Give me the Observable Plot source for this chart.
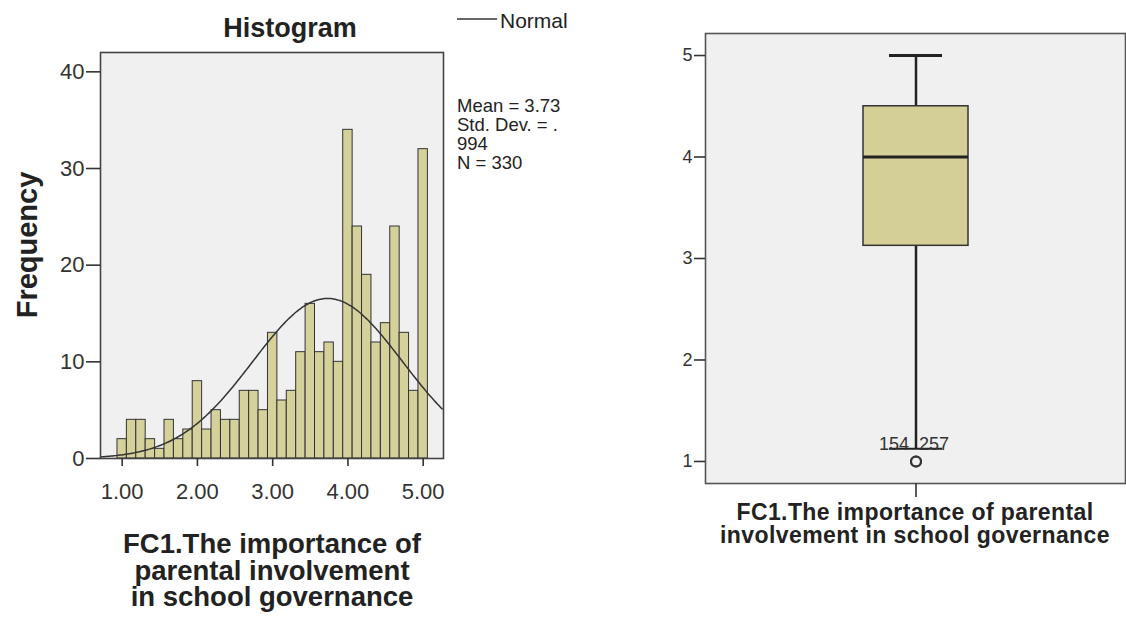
<!DOCTYPE html>
<html>
<head>
<meta charset="utf-8">
<script src="https://cdn.jsdelivr.net/npm/d3@7"></script>
<script src="https://cdn.jsdelivr.net/npm/@observablehq/plot@0.6"></script>
<style>
  html, body { margin: 0; padding: 0; background: #ffffff; }
  #page { position: relative; width: 1126px; height: 621px; overflow: hidden; font-family: "Liberation Sans", Arial, sans-serif; }
  #hist { position: absolute; left: 0; top: 0; width: 600px; height: 621px; }
  #box { position: absolute; left: 600px; top: 0; width: 526px; height: 621px; }
  svg { max-width: none !important; }
</style>
</head>
<body>
<div id="page">
  <div id="hist"></div>
  <div id="box"></div>
</div>
<script>
// FC1 responses: bin centres (width 0.125) and frequencies
const binCenters = [1.000, 1.125, 1.250, 1.375, 1.500, 1.625, 1.750, 1.875,
                    2.000, 2.125, 2.250, 2.375, 2.500, 2.625, 2.750, 2.875,
                    3.000, 3.125, 3.250, 3.375, 3.500, 3.625, 3.750, 3.875,
                    4.000, 4.125, 4.250, 4.375, 4.500, 4.625, 4.750, 4.875, 5.000];
const binCounts  = [2, 4, 4, 2, 1, 4, 2, 3,
                    8, 3, 5, 4, 4, 7, 7, 5,
                    13, 6, 7, 11, 16, 11, 12, 10,
                    34, 24, 19, 12, 14, 24, 13, 7, 32];
const binWidth = 0.125;

// Summary statistics
const statMean = 3.73;
const statSD = 0.994;
const statN = 330;

// Tick values
const histXTicks = [1, 2, 3, 4, 5];
const histYTicks = [0, 10, 20, 30, 40];
const boxYTicks = [1, 2, 3, 4, 5];

// Box plot five-number summary and outliers
const boxCategory = ["FC1"];
const boxQ1 = 3.125, boxMedian = 4.0, boxQ3 = 4.5;
const whiskerLow = 1.125, whiskerHigh = 5.0;
const outlierIds = ["154", "257"];
const outlierValues = [1, 1];

const axisTitleLines = ["FC1.The importance of", "parental involvement", "in school governance"];
const boxTitleLines = ["FC1.The importance of parental", "involvement in school governance"];

const FONT = "'Liberation Sans', Arial, sans-serif";
const INK = "#222";
const BAR_FILL = "#d5d19b";
const PANEL = "#f0f0f0";

// ---------- Histogram ----------
const bins = binCenters.map((c, i) => ({x1: c - binWidth / 2, x2: c + binWidth / 2, count: binCounts[i]}));
const xDomain = [0.712, 5.27];

// Normal curve scaled to counts per bin
const curve = d3.range(xDomain[0], xDomain[1] + 0.001, 0.02).map(x => ({
  x,
  y: statN * binWidth * Math.exp(-0.5 * ((x - statMean) / statSD) ** 2) / (statSD * Math.sqrt(2 * Math.PI))
}));

const hist = Plot.plot({
  width: 600,
  height: 621,
  marginLeft: 100,
  marginRight: 157,
  marginTop: 52,
  marginBottom: 163,
  style: {background: "transparent", fontFamily: FONT, color: "#333", overflow: "visible"},
  x: {domain: xDomain},
  y: {domain: [0, 42]},
  marks: [
    Plot.frame({fill: PANEL}),
    Plot.rectY(bins, {x1: "x1", x2: "x2", y: "count", fill: BAR_FILL, stroke: "#333", strokeWidth: 1, inset: 0}),
    Plot.line(curve, {x: "x", y: "y", stroke: "#333", strokeWidth: 1.5, curve: "basis"}),
    Plot.frame({stroke: "#444", strokeWidth: 1.6}),
    Plot.axisY({ticks: histYTicks, tickSize: 14, tickPadding: 2, fontSize: 22, label: null, stroke: "#333", strokeWidth: 1.6}),
    Plot.axisX({ticks: histXTicks, tickFormat: d => d.toFixed(2), tickSize: 8, tickPadding: 17, fontSize: 22, label: null, stroke: "#333", strokeWidth: 1.6})
  ]
});
document.getElementById("hist").appendChild(hist);

const hs = d3.select(hist);
function addText(sel, x, y, str, opts = {}) {
  return sel.append("text")
    .attr("x", x).attr("y", y)
    .attr("font-family", FONT)
    .attr("font-size", opts.size || 20)
    .attr("font-weight", opts.weight || "normal")
    .attr("fill", opts.fill || INK)
    .attr("text-anchor", opts.anchor || "start")
    .attr("letter-spacing", opts.spacing || 0)
    .attr("transform", opts.transform || null)
    .text(str);
}

// Title
addText(hs, 290, 37, "Histogram", {size: 27, weight: "bold", anchor: "middle"});

// Legend
hs.append("line").attr("x1", 457).attr("x2", 497).attr("y1", 19).attr("y2", 19)
  .attr("stroke", "#333").attr("stroke-width", 1.5);
addText(hs, 500, 28, "Normal", {size: 21});

// Statistics
const sdText = statSD.toFixed(3).replace(/^0/, "");
const statLines = [`Mean = ${statMean}`, `Std. Dev. = ${sdText[0]}`, sdText.slice(1), `N = ${statN}`];
statLines.forEach((s, i) => addText(hs, 457, 112 + i * 19, s, {size: 18.5}));

// Axis titles
addText(hs, 0, 0, "Frequency", {size: 29, weight: "bold", anchor: "middle", transform: "translate(37,245) rotate(-90)"});
axisTitleLines.forEach((s, i) => addText(hs, 272, 553 + i * 26.5, s, {size: 27.5, weight: "bold", anchor: "middle"}));

// ---------- Box plot ----------
const outliers = outlierIds.map((id, i) => ({id, value: outlierValues[i], cat: boxCategory[0], side: i === 0 ? "left" : "right"}));

const box = Plot.plot({
  width: 526,
  height: 621,
  marginLeft: 105,
  marginRight: 1,
  marginTop: 33,
  marginBottom: 138,
  style: {background: "transparent", fontFamily: FONT, color: "#333", overflow: "visible"},
  x: {type: "band", domain: boxCategory, padding: 0.6},
  y: {domain: [0.783, 5.217]},
  marks: [
    Plot.frame({fill: PANEL}),
    Plot.ruleX(boxCategory, {x: d => d, y1: whiskerLow, y2: boxQ1, stroke: "#222", strokeWidth: 2.5}),
    Plot.ruleX(boxCategory, {x: d => d, y1: boxQ3, y2: whiskerHigh, stroke: "#222", strokeWidth: 2.5}),
    Plot.tickY(boxCategory, {x: d => d, y: whiskerHigh, inset: 26, stroke: "#222", strokeWidth: 3}),
    Plot.tickY(boxCategory, {x: d => d, y: whiskerLow, inset: 26, stroke: "#222", strokeWidth: 2}),
    Plot.barY(boxCategory, {x: d => d, y1: boxQ1, y2: boxQ3, fill: "#d3cf97", stroke: "#333", strokeWidth: 1.5, inset: 0}),
    Plot.tickY(boxCategory, {x: d => d, y: boxMedian, stroke: "#222", strokeWidth: 3}),
    Plot.dot(outliers, {x: "cat", y: "value", r: 5, stroke: "#333", strokeWidth: 2, fill: "none"}),
    Plot.text(outliers.filter(d => d.side === "left"), {x: "cat", y: "value", text: "id", textAnchor: "end", dx: -7, dy: -17, fontSize: 18, fill: "#333"}),
    Plot.text(outliers.filter(d => d.side === "right"), {x: "cat", y: "value", text: "id", textAnchor: "start", dx: 3, dy: -17, fontSize: 18, fill: "#333"}),
    Plot.frame({stroke: "#555", strokeWidth: 1.6}),
    Plot.axisY({ticks: boxYTicks, tickFormat: d3.format("d"), tickSize: 11, tickPadding: 2, fontSize: 18, label: null, stroke: "#333", strokeWidth: 1.6}),
    Plot.axisX({tickSize: 14, tickFormat: () => "", label: null, stroke: "#333", strokeWidth: 1.6})
  ]
});
document.getElementById("box").appendChild(box);

const bs = d3.select(box);
boxTitleLines.forEach((s, i) => addText(bs, 315, 520 + i * 23, s, {size: 23, weight: "bold", anchor: "middle", spacing: 0.4}));
</script>
</body>
</html>
